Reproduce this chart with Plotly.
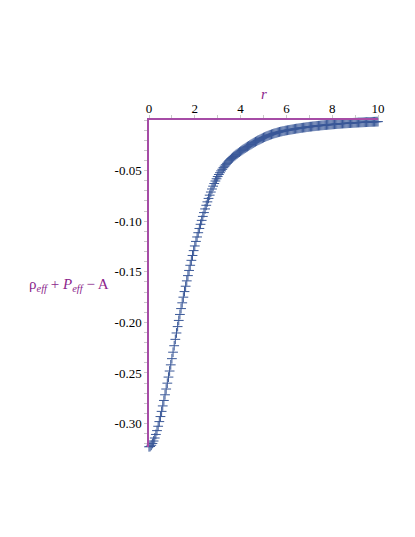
import plotly.graph_objects as go

# radial coordinate r (0 to 10, step 0.05)
r_values = [round(i * 0.05, 2) for i in range(201)]

# rho_eff + P_eff - A
f_values = [
    -0.3230, -0.3227, -0.3215, -0.3197, -0.3173, -0.3143, -0.3108, -0.3070, -0.3027, -0.2981,
    -0.2931, -0.2880, -0.2826, -0.2772, -0.2716, -0.2659, -0.2601, -0.2541, -0.2481, -0.2420,
    -0.2359, -0.2295, -0.2231, -0.2168, -0.2105, -0.2042, -0.1981, -0.1922, -0.1864, -0.1807,
    -0.1751, -0.1696, -0.1643, -0.1590, -0.1538, -0.1487, -0.1436, -0.1387, -0.1339, -0.1291,
    -0.1245, -0.1200, -0.1156, -0.1114, -0.1072, -0.1031, -0.0992, -0.0953, -0.0915, -0.0879,
    -0.0843, -0.0809, -0.0775, -0.0743, -0.0712, -0.0682, -0.0654, -0.0628, -0.0603, -0.0581,
    -0.0559, -0.0539, -0.0521, -0.0503, -0.0487, -0.0471, -0.0456, -0.0442, -0.0428, -0.0416,
    -0.0403, -0.0392, -0.0381, -0.0371, -0.0361, -0.0352, -0.0342, -0.0334, -0.0325, -0.0317,
    -0.0309, -0.0301, -0.0293, -0.0285, -0.0278, -0.0270, -0.0263, -0.0256, -0.0249, -0.0242,
    -0.0235, -0.0228, -0.0221, -0.0215, -0.0209, -0.0202, -0.0197, -0.0191, -0.0185, -0.0180,
    -0.0174, -0.0169, -0.0164, -0.0159, -0.0155, -0.0150, -0.0146, -0.0142, -0.0138, -0.0134,
    -0.0131, -0.0128, -0.0124, -0.0121, -0.0118, -0.0115, -0.0113, -0.0110, -0.0108, -0.0105,
    -0.0103, -0.0101, -0.0099, -0.0097, -0.0095, -0.0093, -0.0091, -0.0089, -0.0087, -0.0085,
    -0.0084, -0.0082, -0.0080, -0.0078, -0.0077, -0.0075, -0.0074, -0.0072, -0.0070, -0.0069,
    -0.0067, -0.0066, -0.0065, -0.0063, -0.0062, -0.0061, -0.0059, -0.0058, -0.0057, -0.0056,
    -0.0054, -0.0053, -0.0052, -0.0051, -0.0050, -0.0049, -0.0048, -0.0047, -0.0046, -0.0045,
    -0.00437, -0.00427, -0.00417, -0.00408, -0.00399, -0.00390, -0.00381, -0.00372, -0.00363, -0.00354,
    -0.00346, -0.00338, -0.00330, -0.00322, -0.00314, -0.00307, -0.00300, -0.00293, -0.00286, -0.00279,
    -0.00272, -0.00265, -0.00258, -0.00251, -0.00245, -0.00239, -0.00233, -0.00227, -0.00221, -0.00215,
    -0.00209, -0.00204, -0.00199, -0.00194, -0.00189, -0.00184, -0.00179, -0.00174, -0.00169, -0.00164,
    -0.00159,
]

x_tick_vals = [0, 2, 4, 6, 8, 10]
x_tick_text = ["0", "2", "4", "6", "8", "10"]
y_tick_vals = [-0.05, -0.10, -0.15, -0.20, -0.25, -0.30]
y_tick_text = ["-0.05", "-0.10", "-0.15", "-0.20", "-0.25", "-0.30"]

AXIS_COLOR = "#A64CA6"
LABEL_COLOR = "#8C1F8C"
MARKER_COLOR = "#3A5898"
SERIF = "Liberation Serif"

fig = go.Figure()
fig.add_trace(go.Scatter(
    x=r_values, y=f_values, mode="markers",
    marker=dict(symbol="cross-thin", size=7, line=dict(width=1, color=MARKER_COLOR), color=MARKER_COLOR),
    cliponaxis=False, showlegend=False, hoverinfo="skip",
))

fig.update_layout(
    width=415, height=537,
    margin=dict(l=141, r=45, t=112, b=98, pad=0),
    paper_bgcolor="white", plot_bgcolor="white",
    font=dict(family=SERIF, size=13, color="black"),
    xaxis=dict(
        range=[0, 10], side="top", showgrid=False, zeroline=False,
        showline=True, linecolor=AXIS_COLOR, linewidth=1.5,
        tickmode="array", tickvals=x_tick_vals, ticktext=x_tick_text,
        ticks="outside", ticklen=3, tickcolor="#C8C8C8", tickwidth=1,
        ticklabelstandoff=-3,
        minor=dict(dtick=1, ticks="outside", ticklen=3, tickcolor="#C8C8C8", showgrid=False),
        tickfont=dict(family=SERIF, size=13, color="black"),
    ),
    yaxis=dict(
        range=[-0.3232, 0], showgrid=False, zeroline=False,
        showline=True, linecolor=AXIS_COLOR, linewidth=1.5,
        tickmode="array", tickvals=y_tick_vals, ticktext=y_tick_text,
        ticks="outside", ticklen=3, tickcolor="#C8C8C8", tickwidth=1,
        minor=dict(dtick=0.01, tick0=0, ticks="outside", ticklen=3, tickcolor="#C8C8C8", showgrid=False),
        tickfont=dict(family=SERIF, size=13, color="black"),
    ),
    annotations=[
        dict(text="<i>r</i>", x=5, xref="x", y=1.08, yref="paper",
             showarrow=False, xanchor="center", yanchor="middle",
             font=dict(family=SERIF, size=15, color=LABEL_COLOR)),
        dict(text="ρ<sub><i>eff</i></sub> + <i>P</i><sub><i>eff</i></sub> − A",
             x=-0.165, xref="paper", y=0.495, yref="paper",
             showarrow=False, xanchor="right", yanchor="middle",
             font=dict(family=SERIF, size=15, color=LABEL_COLOR)),
    ],
)

fig.write_html("out.html")
